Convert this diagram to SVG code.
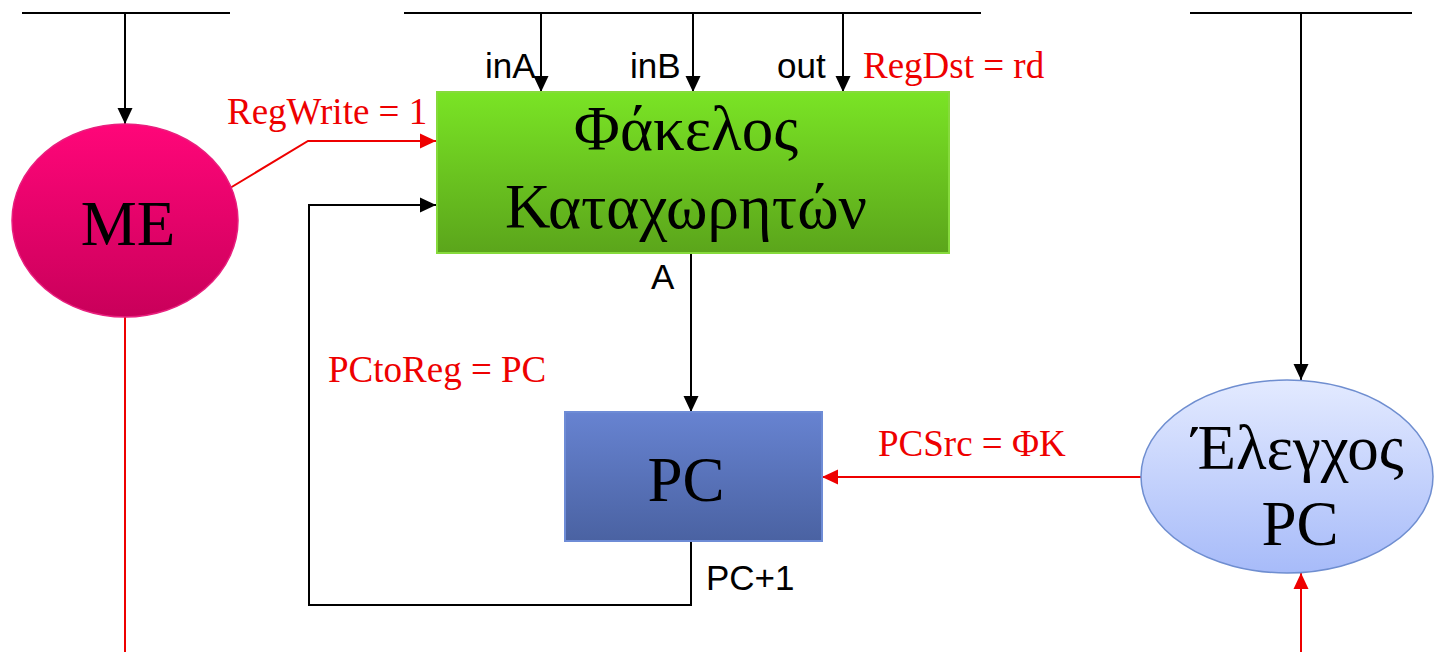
<svg xmlns="http://www.w3.org/2000/svg" width="1436" height="652" viewBox="0 0 1436 652">
<defs>
<linearGradient id="gME" x1="0" y1="0" x2="0" y2="1"><stop offset="0" stop-color="#FF0679"/><stop offset="1" stop-color="#C9005A"/></linearGradient>
<linearGradient id="gRF" x1="0" y1="0" x2="0" y2="1"><stop offset="0" stop-color="#7AE425"/><stop offset="1" stop-color="#5BA51B"/></linearGradient>
<linearGradient id="gPC" x1="0" y1="0" x2="0" y2="1"><stop offset="0" stop-color="#6783D1"/><stop offset="1" stop-color="#4A62A2"/></linearGradient>
<linearGradient id="gEL" x1="0" y1="0" x2="0" y2="1"><stop offset="0" stop-color="#E3EAFF"/><stop offset="1" stop-color="#A7BBF9"/></linearGradient>
<marker id="ab" markerUnits="userSpaceOnUse" markerWidth="17" markerHeight="17" viewBox="0 0 17 17" refX="16" refY="8.5" orient="auto"><path d="M0,1 L16,8.5 L0,16 Z" fill="#000"/></marker>
<marker id="ar" markerUnits="userSpaceOnUse" markerWidth="17" markerHeight="17" viewBox="0 0 17 17" refX="16" refY="8.5" orient="auto"><path d="M0,1 L16,8.5 L0,16 Z" fill="#EE0000"/></marker>
</defs>
<style>
.k{stroke:#000;stroke-width:2;fill:none}
.r{stroke:#EE0000;stroke-width:2;fill:none}
.ka{stroke:#000;stroke-width:2;fill:none;marker-end:url(#ab)}
.ra{stroke:#EE0000;stroke-width:2;fill:none;marker-end:url(#ar)}
.big{font-family:"Liberation Serif","Times New Roman",serif;font-size:63px;fill:#000;text-anchor:middle}
.lbl{font-family:"Liberation Sans",Arial,sans-serif;font-size:35px;fill:#000}
.red{font-family:"Liberation Serif","Times New Roman",serif;font-size:37px;fill:#EE0000}
</style>
<g id="connectors">
<line class="k" x1="22" y1="13" x2="230" y2="13"/>
<line class="k" x1="404" y1="13" x2="981" y2="13"/>
<line class="k" x1="1190" y1="13" x2="1412" y2="13"/>
<line class="ka" x1="125" y1="13" x2="125" y2="124"/>
<line class="ka" x1="541" y1="13" x2="541" y2="92"/>
<line class="ka" x1="693" y1="13" x2="693" y2="92"/>
<line class="ka" x1="843" y1="13" x2="843" y2="92"/>
<line class="ka" x1="1301" y1="13" x2="1301" y2="380"/>
<polyline class="ra" points="230,188 308,141 436,141"/>
<polyline class="ka" points="691,541 691,605 309,605 309,205 436,205"/>
<line class="ka" x1="691" y1="253" x2="691" y2="412"/>
<line class="ra" x1="1141" y1="477" x2="822" y2="477"/>
<line class="ra" x1="1301" y1="652" x2="1301" y2="573"/>
<line class="r" x1="125" y1="317" x2="125" y2="652"/>
<text class="lbl" x="485" y="78">inA</text>
<text class="lbl" x="630" y="78">inB</text>
<text class="lbl" x="777" y="78">out</text>
<text class="red" x="863" y="78">RegDst = rd</text>
<text class="red" x="227" y="124">RegWrite = 1</text>
<text class="lbl" x="651" y="289">A</text>
<text class="red" x="328" y="382">PCtoReg = PC</text>
<text class="red" x="878" y="456">PCSrc = ΦΚ</text>
<text class="lbl" x="706" y="590">PC+1</text>
</g>
<g id="me">
<ellipse cx="125" cy="220.5" rx="113" ry="96.5" fill="url(#gME)" stroke="#E8207E" stroke-width="1.5"/>
<text class="big" x="128" y="245">ME</text>
</g>
<g id="regfile">
<rect x="437" y="92" width="512" height="161" fill="url(#gRF)" stroke="#86DA3C" stroke-width="2"/>
<text class="big" x="686" y="150">Φάκελος</text>
<text class="big" x="686" y="228">Καταχωρητών</text>
</g>
<g id="pc">
<rect x="565" y="412" width="257" height="129" fill="url(#gPC)" stroke="#6E8CD6" stroke-width="2"/>
<text class="big" x="686" y="501">PC</text>
</g>
<g id="pcctrl">
<ellipse cx="1287" cy="476.5" rx="146" ry="96.5" fill="url(#gEL)" stroke="#6F8ED0" stroke-width="1.5"/>
<text class="big" x="1298" y="469">Έλεγχος</text>
<text class="big" x="1300" y="545">PC</text>
</g>
</svg>
